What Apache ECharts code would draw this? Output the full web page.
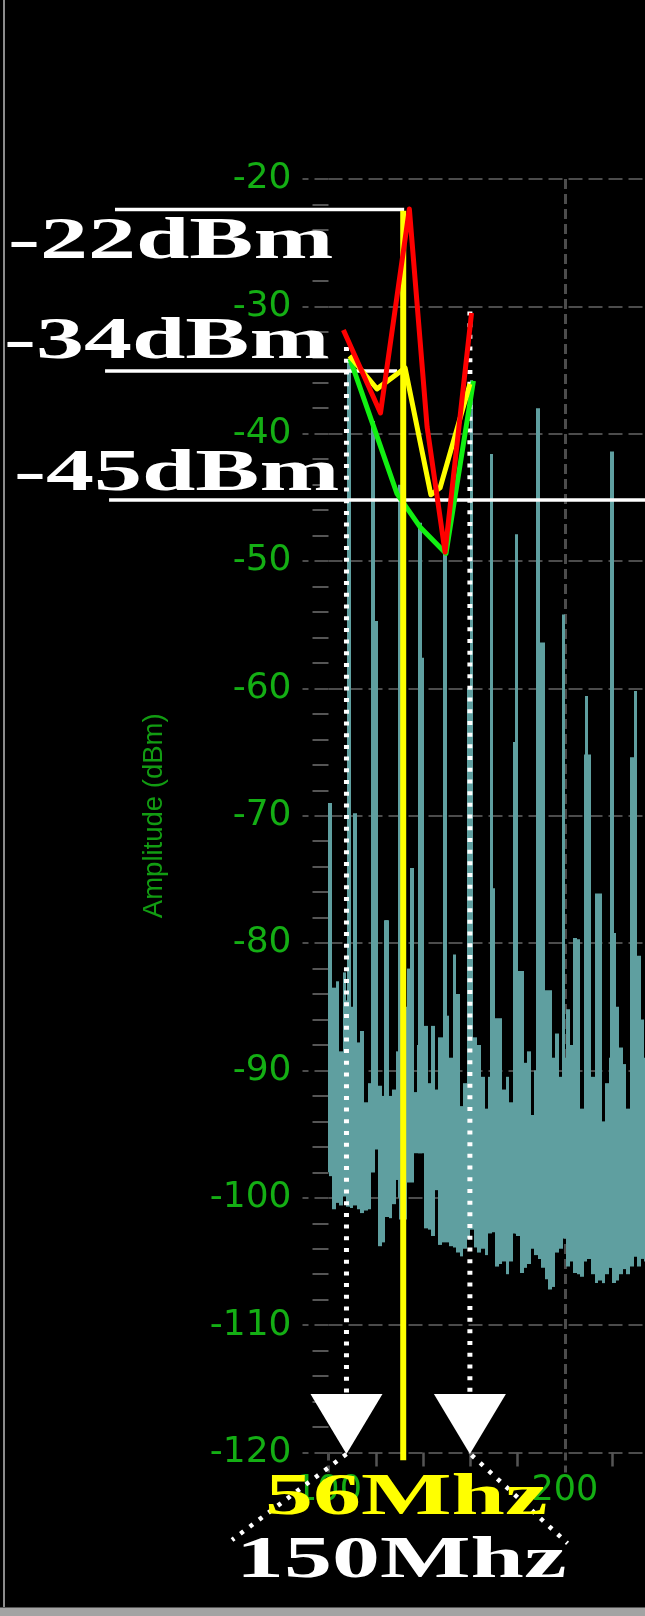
<!DOCTYPE html>
<html>
<head>
<meta charset="utf-8">
<script src="https://cdn.jsdelivr.net/npm/echarts/dist/echarts.min.js"></script>
<style>
html,body{margin:0;padding:0;background:#000;}
#chart{width:645px;height:1616px;}
</style>
</head>
<body>
<div id="chart"></div>
<script>
// ---------- data ----------
const freqRange = [100, 300];          // MHz (axis extent; right part is off-screen)
const ampRange = [-120, -20];          // dBm
const freqLabels = ['100', '200'];
const ampLabels = ['-120','-110','-100','-90','-80','-70','-60','-50','-40','-30','-20'];

// noise band: min/max per 1.5 MHz bin starting at 100 MHz
const noiseStart = 100;
const noiseStep = 1.5;
const noiseHigh = [
  -85.0,-83.5,-83.0,-88.5,-82.3,-84.5,-85.0,-88.0,-87.8,-86.9,
  -92.5,-91.0,-90.0,-54.7,-91.2,-92.0,-78.2,-92.0,-91.5,-88.5,
  -80.0,-85.0,-82.0,-74.1,-91.7,-88.0,-57.6,-86.5,-91.0,-86.5,
  -91.5,-87.4,-87.4,-85.7,-89.0,-80.9,-84.0,-92.8,-91.0,-60.0,
  -87.4,-87.4,-88.0,-90.5,-93.0,-90.5,-75.7,-85.9,-85.9,-91.5,
  -90.5,-92.5,-64.2,-82.2,-82.2,-89.4,-88.5,-93.5,-90.0,-56.4,
  -56.4,-83.7,-83.7,-89.0,-87.1,-90.5,-89.0,-85.2,-88.0,-79.6,
  -79.7,-93.0,-65.2,-65.2,-90.5,-76.1,-76.1,-94.0,-91.0,-89.0,
  -79.2,-85.0,-88.2,-89.5,-93.0,-65.4,-65.4,-81.0,-86.0,-89.0
];
const noiseLow = [
  -98.3,-100.9,-100.4,-100.6,-99.9,-100.7,-100.8,-100.6,-100.9,-101.2,
  -101.0,-100.9,-98.0,-96.2,-103.8,-103.5,-101.5,-101.6,-100.5,-98.6,
  -101.7,-101.7,-98.8,-98.8,-96.5,-96.5,-96.5,-102.4,-102.5,-103.0,
  -99.4,-103.7,-103.5,-103.5,-103.8,-103.9,-104.3,-104.6,-104.0,-103.2,
  -102.5,-103.9,-104.3,-104.0,-104.5,-102.8,-102.7,-105.4,-105.2,-105.0,
  -106.0,-105.0,-102.8,-103.0,-105.9,-105.5,-105.2,-104.0,-104.5,-104.8,
  -105.5,-106.4,-107.2,-107.0,-104.3,-104.0,-103.2,-105.4,-105.0,-105.9,
  -106.0,-106.2,-105.0,-104.8,-106.0,-106.7,-106.5,-106.7,-106.0,-105.5,
  -106.7,-106.5,-106.0,-105.6,-106.0,-105.4,-104.6,-105.4,-104.8,-105.0
];

// harmonic / narrow spikes
const spikeFreq   = [100.6, 108.7, 111.2, 118.8, 124.3, 130.2, 138.7, 149.3, 160.4, 169.0, 179.6, 188.7, 199.3, 209.2, 219.8, 229.8];
const spikeTop    = [-69.0, -34.3, -69.8, -39.0, -78.2, -44.0, -47.0, -49.0, -35.8, -41.6, -47.9, -38.0, -54.2, -60.6, -41.4, -60.2];
const spikeBottom = [-98.0,-100.0,-100.0, -98.0,-101.0,-100.0, -96.5,-103.0,-102.0,-102.5,-102.8,-104.5,-103.0,-104.8,-105.5,-104.6];

// annotation traces (MHz, dBm)
const redX    = [106.3, 122.0, 134.2, 141.7, 149.3, 160.5];
const redY    = [-31.85, -38.37, -22.35, -39.47, -49.3, -30.52];
const yellowX = [108.9, 120.5, 132.4, 143.3, 147.2, 159.8];
const yellowY = [-33.89, -36.48, -34.84, -44.8, -44.25, -36.1];
const greenX  = [109.1, 129.0, 138.7, 149.7, 161.3];
const greenY  = [-34.13, -44.73, -47.32, -49.4, -35.86];

// reference levels (-22, -34, -45 dBm) drawn as white lines
const refLevel = [-22.4, -35.07, -45.2];
const refFrom  = [9.7, 5.5, 7.2];
const refTo    = [132.0, 129.0, 240];

// 56 MHz marker (yellow vertical)
const markerFreq = 131.6;
const markerSpan = [-22.5, -120.6];

// band edges (dotted verticals + arrows + fan lines)
const edgeFreq = [107.6, 159.8];
const edgeTop  = [-33.2, -30.4];
const edgeBottom = -115.8;
const arrowLevel = -117.76;
const fanFromX = [107.6, 160.5];
const fanFromY = [-120.12, -120.2];
const fanToX   = [59.2, 201.1];
const fanToY   = [-126.87, -127.13];

// ---------- layout ----------
const W = 645, H = 1616;
const G = { left: 328.5, right: -156.4, top: 179, bottom: 163.5 };
const mhzPerPx = (freqRange[1] - freqRange[0]) / (W - G.left - G.right);
const dbPerPx = (ampRange[1] - ampRange[0]) / (H - G.top - G.bottom);
// overlay coordinate system covering the whole canvas, same scale as the plot
const overlayX = [freqRange[0] - G.left * mhzPerPx, freqRange[1]];
const overlayY = [ampRange[0] - G.bottom * dbPerPx, ampRange[1] + G.top * dbPerPx];

const TEAL = '#5f9fa0';
const GREEN_TXT = '#14ae14';
const GRID_C = '#4c4c4c';

function pairs(xs, ys) { return xs.map((x, i) => [x, ys[i]]); }

function columnRenderer(widthMHz, minPx) {
  return function (params, api) {
    const x = api.value(0), lo = api.value(1), hi = api.value(2);
    const pTop = api.coord([x, hi]);
    const pBot = api.coord([x, lo]);
    let xl = Math.round(api.coord([x - widthMHz / 2, hi])[0]);
    let xr = Math.round(api.coord([x + widthMHz / 2, hi])[0]);
    if (xr - xl < minPx) xr = xl + minPx;
    return {
      type: 'rect',
      shape: { x: xl, y: pTop[1], width: xr - xl, height: pBot[1] - pTop[1] },
      style: { fill: TEAL }
    };
  };
}

function lineSeries(name, data, color, width, type, z) {
  return {
    name, type: 'line', data, clip: false, symbol: 'none', silent: true, z,
    xAxisIndex: 1, yAxisIndex: 1, animation: false,
    lineStyle: { color, width, type: type || 'solid', join: 'round' }
  };
}

const DOT = [4, 7.7];

const noiseData = noiseHigh.map((h, i) => [noiseStart + noiseStep * (i + 0.5), noiseLow[i], h]);
const spikeData = spikeFreq.map((f, i) => [f, spikeBottom[i], spikeTop[i]]);

const series = [
  { name: 'noise', type: 'custom', renderItem: columnRenderer(1.5, 1), data: noiseData,
    encode: { x: 0, y: [1, 2] }, z: 2, silent: true, animation: false },
  { name: 'spikes', type: 'custom', renderItem: columnRenderer(1.5, 3), data: spikeData,
    encode: { x: 0, y: [1, 2] }, z: 2, silent: true, animation: false }
];

edgeFreq.forEach((f, i) => {
  series.push(lineSeries('edge' + i, [[f, edgeTop[i]], [f, edgeBottom]], '#ffffff', 5, DOT, 3));
  series.push(lineSeries('fan' + i, [[fanFromX[i], fanFromY[i]], [fanToX[i], fanToY[i]]], '#ffffff', 4.5, DOT, 3));
});

refLevel.forEach((lv, i) => {
  series.push(lineSeries('ref' + i, [[refFrom[i], lv], [refTo[i], lv]], '#ffffff', 3.5, 'solid', 4));
});

series.push(lineSeries('green', pairs(greenX, greenY), '#12f012', 5, 'solid', 5));
series.push(lineSeries('yellow', pairs(yellowX, yellowY), '#ffff00', 5, 'solid', 6));
series.push(lineSeries('marker', [[markerFreq, markerSpan[0]], [markerFreq, markerSpan[1]]], '#ffff00', 6, 'solid', 7));
series.push(lineSeries('red', pairs(redX, redY), '#ff0000', 5, 'solid', 8));

series.push({
  name: 'arrows', type: 'scatter', data: edgeFreq.map(f => [f, arrowLevel]),
  xAxisIndex: 1, yAxisIndex: 1,
  symbol: 'triangle', symbolRotate: 180, symbolSize: [72, 60],
  itemStyle: { color: '#ffffff', opacity: 1 }, z: 9, silent: true, animation: false, clip: false
});

const chart = echarts.init(document.getElementById('chart'), null, { renderer: 'canvas' });

const serifFont = { fontFamily: '"Liberation Serif", "Times New Roman", serif', fontWeight: 'bold', fontSize: 60 };
function annot(text, x, y, color) {
  return { type: 'text', x, y, scaleX: 1.6, z: 100,
    style: Object.assign({ text, fill: color, align: 'left', verticalAlign: 'middle' }, serifFont) };
}

chart.setOption({
  backgroundColor: '#000000',
  animation: false,
  grid: [
    { left: G.left, right: G.right, top: G.top, bottom: G.bottom, containLabel: false, outerBoundsMode: 'none' },
    { left: 0, right: G.right, top: 0, bottom: 0, containLabel: false, outerBoundsMode: 'none' }
  ],
  xAxis: [{
    type: 'value', gridIndex: 0, min: freqRange[0], max: freqRange[1], interval: 100,
    axisLine: { show: false },
    axisTick: { show: true, length: 20, lineStyle: { color: GRID_C, width: 3, type: [8, 5] } },
    minorTick: { show: true, splitNumber: 5, length: 14, lineStyle: { color: '#555555', width: 2.5 } },
    splitLine: { show: true, showMinLine: false, lineStyle: { color: GRID_C, width: 3, type: [10, 5] } },
    axisLabel: { color: GREEN_TXT, fontFamily: '"DejaVu Sans", Verdana, sans-serif', fontSize: 35, margin: 21,
      formatter: v => freqLabels.indexOf(String(v)) >= 0 ? String(v) : '' }
  }, {
    type: 'value', gridIndex: 1, min: overlayX[0], max: overlayX[1], show: false
  }],
  yAxis: [{
    type: 'value', gridIndex: 0, min: ampRange[0], max: ampRange[1], interval: 10,
    name: 'Amplitude (dBm)', nameLocation: 'middle', nameRotate: 90, nameGap: 160,
    nameTextStyle: { color: '#129c12', fontFamily: '"Liberation Sans", Arial, sans-serif', fontSize: 27.5 },
    axisLine: { show: false },
    axisTick: { show: true, length: 26, lineStyle: { color: GRID_C, width: 2, type: [14, 6] } },
    minorTick: { show: true, splitNumber: 5, length: 16, lineStyle: { color: '#555555', width: 2 } },
    splitLine: { show: true, lineStyle: { color: GRID_C, width: 2, type: [14, 6] } },
    axisLabel: { color: GREEN_TXT, fontFamily: '"DejaVu Sans", Verdana, sans-serif', fontSize: 36, margin: 37,
      formatter: v => ampLabels.indexOf(String(v)) >= 0 ? String(v) : '' }
  }, {
    type: 'value', gridIndex: 1, min: overlayY[0], max: overlayY[1], show: false
  }],
  graphic: [
    { type: 'rect', shape: { x: 3, y: 0, width: 2, height: 1608 }, style: { fill: '#8c8c8c' }, z: 100 },
    { type: 'rect', shape: { x: 0, y: 1607, width: 645, height: 1 }, style: { fill: '#555555' }, z: 100 },
    { type: 'rect', shape: { x: 0, y: 1608, width: 645, height: 8 }, style: { fill: '#a3a3a3' }, z: 100 },
    annot('-22dBm', 8, 242, '#ffffff'),
    annot('-34dBm', 4, 342, '#ffffff'),
    annot('-45dBm', 14, 474, '#ffffff'),
    annot('56Mhz', 265, 1498, '#ffff00'),
    annot('150Mhz', 236, 1561, '#ffffff')
  ],
  series
});
</script>
</body>
</html>
